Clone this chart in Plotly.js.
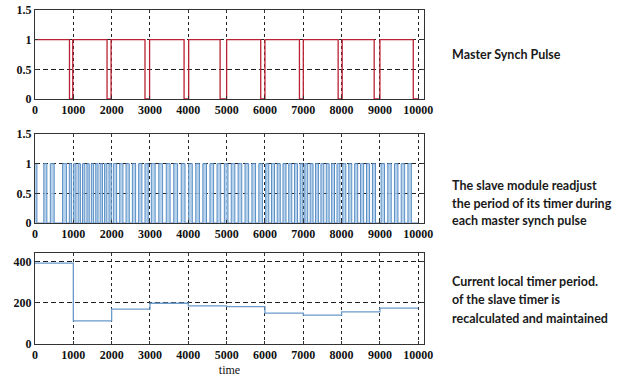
<!DOCTYPE html>
<html><head><meta charset="utf-8">
<script src="https://cdn.plot.ly/plotly-3.0.1.min.js"></script>
<style>html,body{margin:0;padding:0;background:#fff;overflow:hidden}#chart{width:629px;height:377px}</style>
</head><body><div id="chart"></div>
<script>
// ---- data ----
const xTicks = [0,1000,2000,3000,4000,5000,6000,7000,8000,9000,10000];
const pulseTicks = [0,0.5,1,1.5];
const pulseTickText = ['0','0.5','1','1.5'];
const periodTicks = [0,200,400];

// Master synch pulse: falling / rising edges (time)
const masterFall = [900,1880,2870,3890,4830,5890,6900,7910,8850,9870];
const masterRise = [985,1985,2990,4010,5000,6000,7000,8015,9000];

// Slave timer output: rising / falling edges (time)
const slaveRise = [0,230,400,720,
  895,1010,1125,1240,1355,1470,1585,1700,1815,1930,
  2045,2210,2375,2540,2705,2870,
  3035,3230,3425,3620,3815,
  4010,4195,4380,4565,4750,
  4940,5120,5300,5480,5660,5840,
  6020,6170,6320,6470,6620,6770,6920,
  7040,7180,7320,7460,7600,7740,7880,
  8030,8185,8340,8495,8650,8805,
  9030,9205,9380,9555,9730];
const slaveFall = [50,310,500,820,
  955,1070,1185,1300,1415,1530,1645,1760,1875,1990,
  2130,2295,2460,2625,2790,2955,
  3135,3330,3525,3720,3915,
  4105,4290,4475,4660,4845,
  5035,5215,5395,5575,5755,5935,
  6100,6250,6400,6550,6700,6850,6990,
  7115,7255,7395,7535,7675,7815,7955,
  8110,8265,8420,8575,8730,8885,
  9120,9295,9470,9645,9820];

// Current local timer period (per master interval)
const periodStart = [0,1000,2000,3000,4000,5000,6000,7000,8000,9000];
const periodValue = [393,112,169,198,185,182,150,140,156,174];
const endTime = 10000;

const note1 = ['Master Synch Pulse'];
const note2 = ['The slave module readjust','the period of its timer during','each master synch pulse'];
const note3 = ['Current local timer period.','of the slave timer is','recalculated and maintained'];
const xTitle = 'time';

// ---- build step paths ----
const mX = [0], mY = [1];
masterFall.forEach((f, i) => {
  mX.push(f); mY.push(0);
  if (i < masterRise.length) { mX.push(masterRise[i]); mY.push(1); }
});
mX.push(endTime); mY.push(0);

const sX = [], sY = [];
slaveRise.forEach((r, i) => {
  sX.push(r); sY.push(1);
  sX.push(slaveFall[i]); sY.push(0);
});
sX.push(endTime); sY.push(0);

const pX = periodStart.concat([endTime]);
const pY = periodValue.concat([periodValue[periodValue.length - 1]]);

const W = 629, H = 377;
const xDom = [35 / W, 424 / W];
const dom = (top, bot) => [1 - bot / H, 1 - top / H];

const tickFont = {family: 'Liberation Serif, Times New Roman, serif', size: 12, color: '#111', weight: 700};
function xaxis(anchor, withTitle) {
  const a = {
    domain: xDom, anchor: anchor, range: [0, 10150],
    tickvals: xTicks, ticktext: xTicks.map(String),
    showgrid: true, gridcolor: '#222', gridwidth: 1, griddash: '3px,3px',
    showline: true, linecolor: '#333', linewidth: 1, mirror: 'ticks',
    ticks: 'inside', ticklen: 3, tickcolor: '#333',
    tickfont: tickFont, zeroline: false
  };
  if (withTitle) a.title = {text: withTitle, font: {family: 'Liberation Serif, serif', size: 12, color: '#111'}, standoff: 4};
  return a;
}
function yaxis(anchor, domain, range, tv, tt) {
  return {
    domain: domain, anchor: anchor, range: range,
    tickvals: tv, ticktext: tt,
    showgrid: true, gridcolor: '#222', gridwidth: 1, griddash: '5px,3px',
    showline: true, linecolor: '#333', linewidth: 1, mirror: 'ticks',
    ticks: 'inside', ticklen: 3, tickcolor: '#333',
    tickfont: tickFont, zeroline: false
  };
}

const traces = [
  {x: mX, y: mY, xaxis: 'x', yaxis: 'y', mode: 'lines', line: {shape: 'hv', color: '#bb2233', width: 1.3}, hoverinfo: 'skip'},
  {x: sX, y: sY, xaxis: 'x2', yaxis: 'y2', mode: 'lines', line: {shape: 'hv', color: '#5a8fc4', width: 1},
   fill: 'tozeroy', fillcolor: 'rgba(170,202,234,0.85)', hoverinfo: 'skip'},
  {x: pX, y: pY, xaxis: 'x3', yaxis: 'y3', mode: 'lines', line: {shape: 'hv', color: '#6b9bcb', width: 1.3}, hoverinfo: 'skip'}
];

const annFont = {family: 'Lato, Open Sans, sans-serif', size: 12.5, color: '#1a1a1a', weight: 700};
const annotations = [];
function addNote(lines, startY, gap) {
  lines.forEach((t, i) => annotations.push({
    text: t, xref: 'paper', yref: 'paper', x: 450 / W, y: 1 - (startY + i * gap) / H,
    xanchor: 'left', yanchor: 'middle', showarrow: false, align: 'left', font: annFont
  }));
}
addNote(note1, 55, 18);
addNote(note2, 185, 18);
addNote(note3, 281, 18.5);

const layout = {
  width: W, height: H, margin: {l: 0, r: 0, t: 0, b: 0},
  paper_bgcolor: '#fff', plot_bgcolor: '#fff', showlegend: false,
  xaxis: xaxis('y', null),
  yaxis: yaxis('x', dom(10, 99), [0, 1.5], pulseTicks, pulseTickText),
  xaxis2: xaxis('y2', null),
  yaxis2: yaxis('x2', dom(134, 223), [0, 1.5], pulseTicks, pulseTickText),
  xaxis3: xaxis('y3', xTitle),
  yaxis3: yaxis('x3', dom(253, 344), [0, 442], periodTicks, periodTicks.map(String)),
  annotations: annotations
};

Plotly.newPlot('chart', traces, layout, {staticPlot: true, displayModeBar: false});
</script>
</body></html>
